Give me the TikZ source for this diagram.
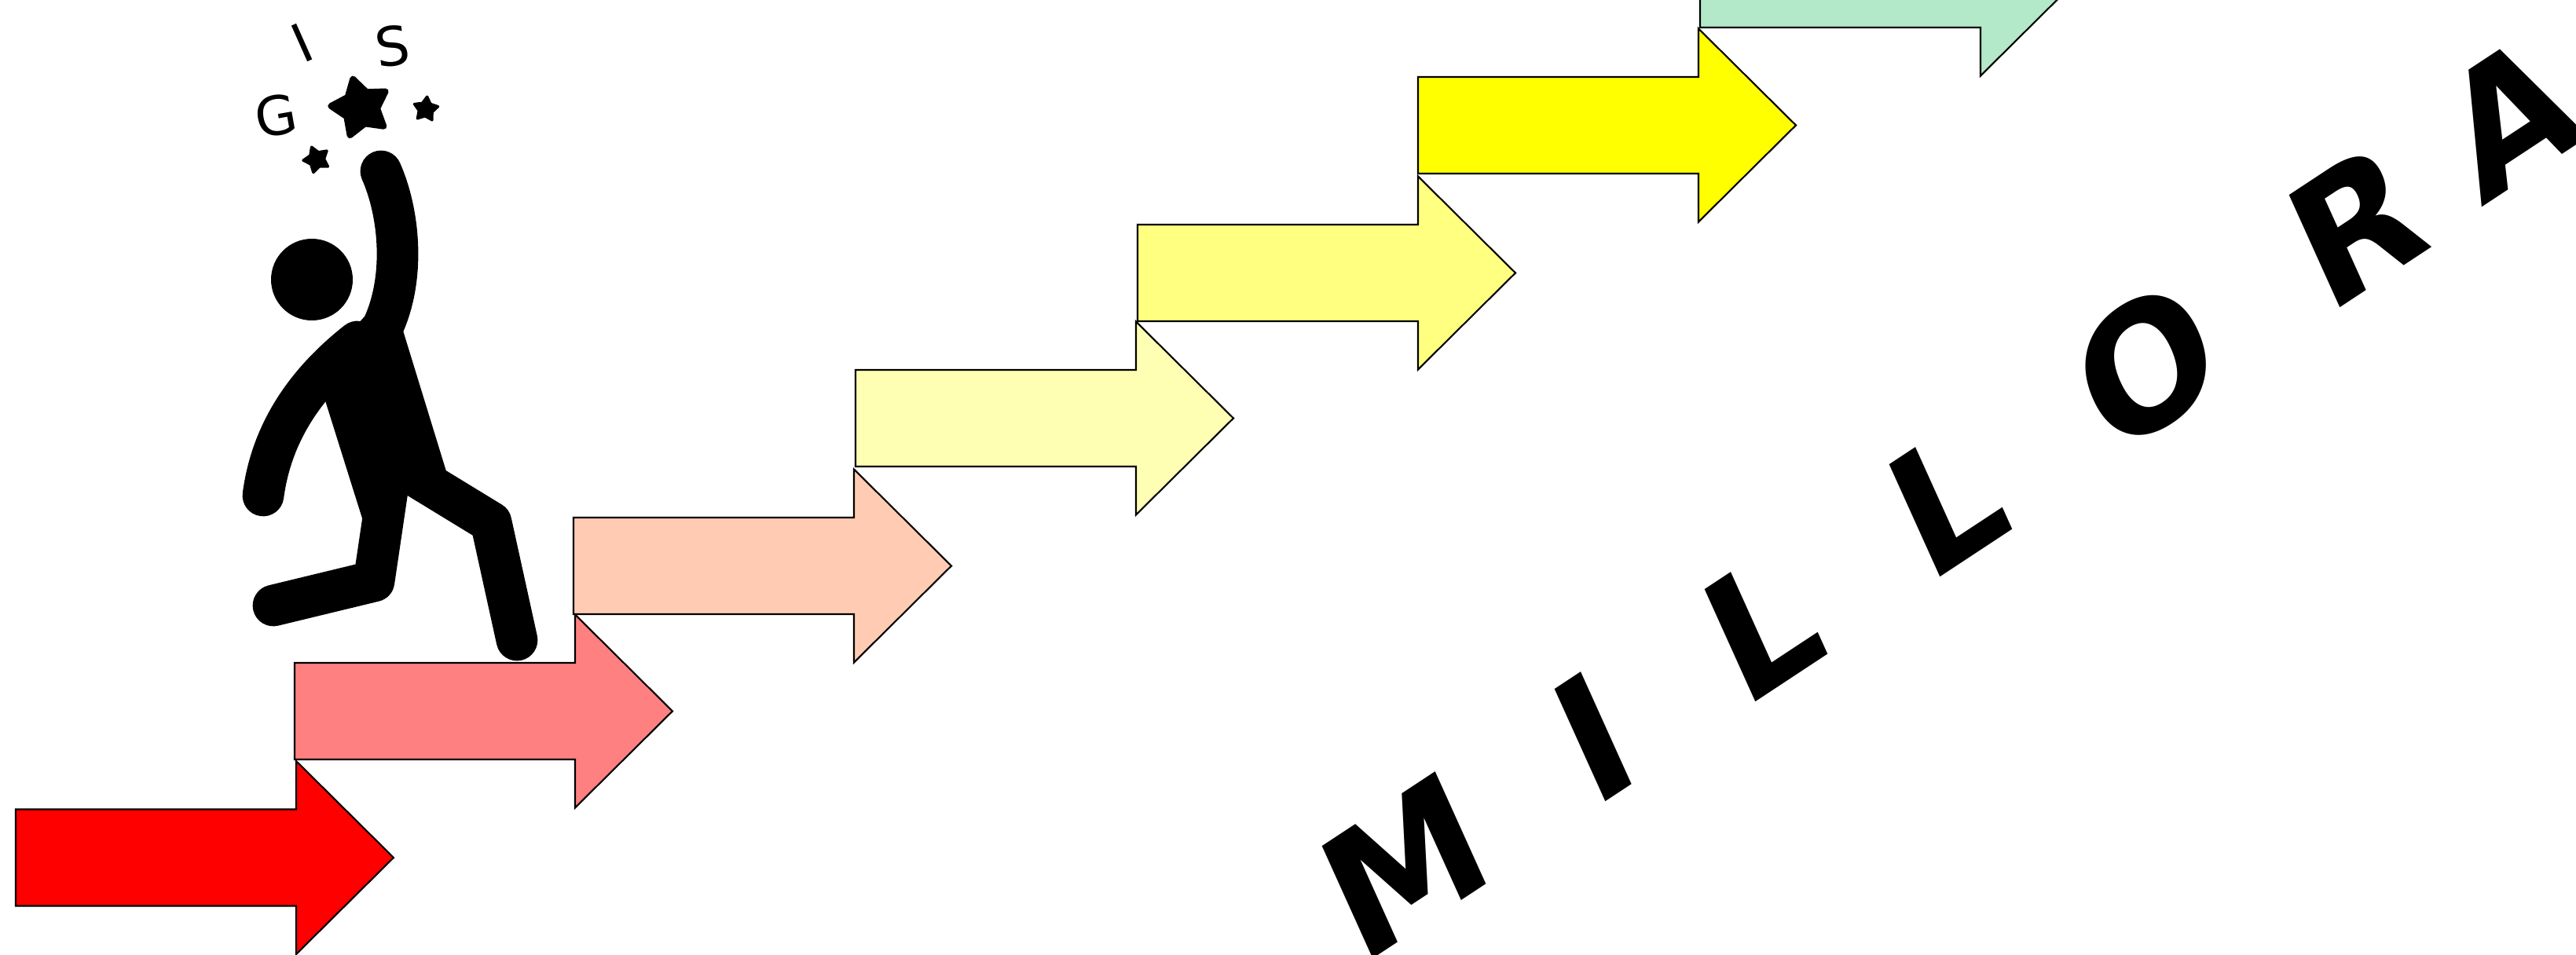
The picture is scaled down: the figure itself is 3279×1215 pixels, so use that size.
\documentclass[tikz,border=0pt]{standalone}
\usepackage{fontspec}
\setmainfont{DejaVu Sans}
\definecolor{c1}{HTML}{FF0000}
\definecolor{c2}{HTML}{FF8080}
\definecolor{c3}{HTML}{FFCCB3}
\definecolor{c4}{HTML}{FFFFB3}
\definecolor{c5}{HTML}{FFFF80}
\definecolor{c6}{HTML}{FFFF00}
\definecolor{c7}{HTML}{B3E8C8}
\tikzset{
  x=0.01cm,y=-0.01cm,
  stepa/.style={draw=black,line width=0.6pt,line join=miter},
  limb/.style={draw=black,line width=15pt,line cap=round,line join=round},
  big/.style={font=\bfseries\fontsize{60.5}{60.5}\selectfont,inner sep=0pt,text=black,rotate=33.4,xslant=0.16},
  small/.style={font=\fontsize{19.5}{20}\selectfont,inner sep=0pt,text=black},
  fig/.style={fill=black,draw=none}
}
% #1 left, #2 centre y, #3 fill
\newcommand{\stair}[3]{%
  \path[stepa,fill=#3] (#1,#2-61.5) -- (#1+357,#2-61.5) -- (#1+357,#2-123) -- (#1+481,#2) -- (#1+357,#2+123) -- (#1+357,#2+61.5) -- (#1,#2+61.5) -- cycle;
}
% cx cy R rot
\newcommand{\tistar}[4]{%
  \path[fill=black,draw=black,line width=#3*0.057pt,line join=round]
   ({#1+#3*cos(#4)},{#2+#3*sin(#4)})
   \foreach \k in {1,...,9}{ -- ({#1+#3*(1-0.44*mod(\k,2))*cos(#4+36*\k)},{#2+#3*(1-0.44*mod(\k,2))*sin(#4+36*\k)}) } -- cycle;
}
\begin{document}
\begin{tikzpicture}
\useasboundingbox (0,0) rectangle (3279,1215);
\clip (0,0) rectangle (3279,1215);
\stair{20}{1092}{c1}
\stair{375}{905.5}{c2}
\stair{730}{720.5}{c3}
\stair{1089}{532.5}{c4}
\stair{1448}{347.5}{c5}
\stair{1805}{159.5}{c6}
\stair{2164}{-26.5}{c7}
% figure
\fill[fig] (397,356) circle (52);
\draw[limb] (485,218) .. controls (508,270) and (516,350) .. (489,412);
\draw[limb] (335,631) .. controls (345,555) and (385,490) .. (455,435);
\fill[fig] (465,402) -- (513,421) -- (568,600) -- (518,631) -- (495,670) -- (462,663) -- (413,507) -- (430,440) -- cycle;
\draw[limb] (493,625) -- (476,740) -- (348,771);
\draw[limb] (530,607) -- (625,665) -- (658,815);
\node[big] (m) at (1788,1102) {M};
\node[big] (i) at (2028,938) {I};
\node[big] (l1) at (2243,796) {L};
\node[big] (l2) at (2478,637) {L};
\node[big] (o) at (2732,465) {O};
\node[big] (r) at (2999,286) {R};
\node[big] (a) at (3195,148) {A};
\node[small,rotate=10] (g) at (351,147) {G};
\node[small,rotate=24] (ii) at (385,55) {I};
\node[small,rotate=8] (s) at (500,59) {S};
\tistar{459}{137}{38}{-105}
\tistar{542}{139}{16}{-84}
\tistar{403}{203}{17}{-112}
\end{tikzpicture}
\end{document}
